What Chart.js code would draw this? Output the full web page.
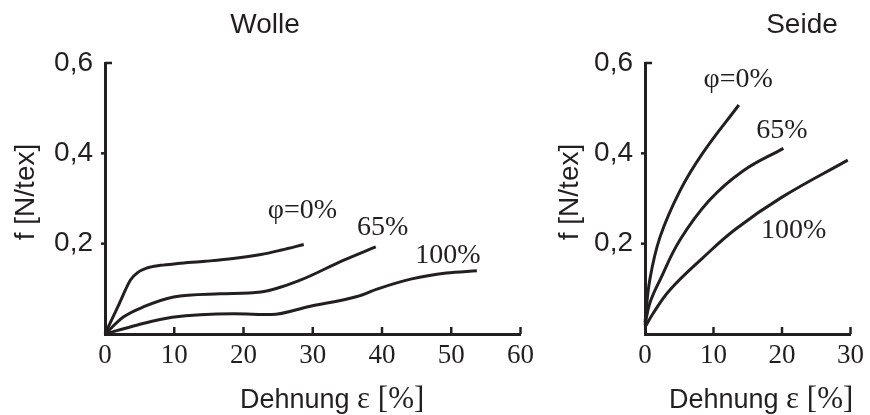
<!DOCTYPE html>
<html>
<head>
<meta charset="utf-8">
<script src="https://cdn.jsdelivr.net/npm/chart.js@4.4.0/dist/chart.umd.min.js"></script>
<style>
  html, body { margin: 0; padding: 0; background: #fff; }
  #wrap { position: relative; width: 870px; height: 415px; }
  #wolleBox { position: absolute; left: 0; top: 0; width: 540px; height: 415px; }
  #seideBox { position: absolute; left: 540px; top: 0; width: 330px; height: 415px; }
</style>
</head>
<body>
<div id="wrap">
  <div id="wolleBox"><canvas id="wolle"></canvas></div>
  <div id="seideBox"><canvas id="seide"></canvas></div>
</div>
<script>
// Wolle: Dehnung [%] / Kraft [N/tex] bei φ = 0, 65, 100 %
const wolleEps0 = [0, 2, 3.7, 4.7, 6, 8, 10.5, 14.5, 18.5, 22.5, 25.5, 28.7];
const wolleF0 = [0, 0.065, 0.12, 0.136, 0.146, 0.152, 0.156, 0.161, 0.167, 0.176, 0.186, 0.198];
const wolleEps65 = [0, 2.7, 5.7, 9.9, 16.6, 22.5, 28, 34.4, 39.1];
const wolleF65 = [0, 0.038, 0.061, 0.082, 0.089, 0.093, 0.118, 0.163, 0.193];
const wolleEps100 = [0, 4.7, 9.7, 18.6, 24, 29.5, 36.4, 39.4, 44.3, 49.3, 53.7];
const wolleF100 = [0, 0.02, 0.037, 0.045, 0.043, 0.061, 0.083, 0.1, 0.122, 0.135, 0.14];

// Seide
const seideEps0 = [0, 0.7, 2.2, 5.1, 8.4, 13.7];
const seideF0 = [0.025, 0.12, 0.215, 0.317, 0.4, 0.507];
const seideEps65 = [0, 0.7, 2.2, 5.1, 9.4, 14.2, 20.2];
const seideF65 = [0.02, 0.068, 0.12, 0.208, 0.296, 0.36, 0.411];
const seideEps100 = [0, 1.2, 3.6, 8.4, 13.2, 20, 29.6];
const seideF100 = [0.015, 0.046, 0.097, 0.168, 0.232, 0.303, 0.385];

const curveNames = ['φ=0%', '65%', '100%'];
const yTickStep = 0.2;
const xTickStep = 10;

const ink = '#231f20';
const sans = 'Liberation Sans';
const serif = 'Liberation Serif';

function pts(xs, ys) {
  return xs.map((x, i) => ({ x: x, y: ys[i] }));
}

function line(xs, ys, name, smooth) {
  const ds = {
    label: name,
    data: pts(xs, ys),
    borderColor: ink,
    borderWidth: 3,
    pointRadius: 0,
    fill: false,
    clip: false
  };
  if (smooth) ds.tension = 0.4;
  else ds.cubicInterpolationMode = 'monotone';
  return ds;
}

// text around the plot: titles, axis names, curve labels, tick marks
const decor = {
  id: 'decor',
  afterDraw(chart, args, opts) {
    const { ctx, chartArea, scales } = chart;
    const sx = scales.x, sy = scales.y;
    ctx.save();
    ctx.fillStyle = ink;
    ctx.strokeStyle = ink;

    // tick marks
    ctx.lineWidth = 2.5;
    sx.ticks.forEach(t => {
      if (t.value === 0) return;
      const px = sx.getPixelForValue(t.value);
      ctx.beginPath();
      ctx.moveTo(px, chartArea.bottom);
      ctx.lineTo(px, chartArea.bottom - 7);
      ctx.stroke();
    });
    sy.ticks.forEach(t => {
      if (t.value === 0) return;
      const py = sy.getPixelForValue(t.value);
      ctx.beginPath();
      if (Math.abs(t.value - sy.max) < 1e-6) {
        ctx.moveTo(chartArea.left, py);
        ctx.lineTo(chartArea.left + 7, py);
      } else {
        ctx.moveTo(chartArea.left - 4, py);
        ctx.lineTo(chartArea.left, py);
      }
      ctx.stroke();
    });

    // chart title
    ctx.textBaseline = 'alphabetic';
    ctx.textAlign = 'center';
    ctx.font = '28px "' + sans + '"';
    ctx.fillText(opts.title, opts.titleX, 33);

    // x axis name
    ctx.textAlign = 'left';
    ctx.font = '27px "' + sans + '"';
    const w1 = ctx.measureText('Dehnung ').width;
    ctx.fillText('Dehnung ', opts.xTitleX, 408);
    ctx.font = '31px "' + serif + '"';
    ctx.fillText('ε [%]', opts.xTitleX + w1, 408);

    // y axis name
    ctx.save();
    ctx.translate(opts.yTitleX, 192);
    ctx.rotate(-Math.PI / 2);
    ctx.textAlign = 'center';
    ctx.textBaseline = 'middle';
    ctx.font = '28px "' + sans + '"';
    ctx.fillText('f [N/tex]', 0, 0);
    ctx.restore();

    // curve labels
    ctx.textAlign = 'center';
    ctx.textBaseline = 'alphabetic';
    ctx.font = '28px "' + serif + '"';
    opts.labels.forEach(l => {
      ctx.fillText(l.text, sx.getPixelForValue(l.x), sy.getPixelForValue(l.y));
    });
    ctx.restore();
  }
};

function makeOptions(xMax, padRight, decorOpts) {
  return {
    responsive: true,
    maintainAspectRatio: false,
    animation: false,
    layout: { padding: { left: 0, top: 63, right: padRight, bottom: 0 } },
    plugins: {
      legend: { display: false },
      tooltip: { enabled: false },
      decor: decorOpts
    },
    scales: {
      x: {
        type: 'linear',
        min: 0,
        max: xMax,
        ticks: { stepSize: xTickStep, color: ink, padding: 6, font: { family: serif, size: 27 } },
        grid: { drawOnChartArea: false, drawTicks: false },
        border: { display: true, width: 3, color: ink },
        afterFit: s => { s.height = 81; }
      },
      y: {
        min: 0,
        max: 0.6,
        ticks: {
          stepSize: yTickStep,
          color: ink,
          padding: 12,
          font: { family: sans, size: 28 },
          callback: v => (v === 0 ? '' : v.toFixed(1).replace('.', ','))
        },
        grid: { drawOnChartArea: false, drawTicks: false },
        border: { display: true, width: 3, color: ink },
        afterFit: s => { s.width = 105; }
      }
    }
  };
}

document.addEventListener('DOMContentLoaded', function () {
  new Chart(document.getElementById('wolle').getContext('2d'), {
    type: 'line',
    data: {
      datasets: [
        line(wolleEps0, wolleF0, curveNames[0], false),
        line(wolleEps65, wolleF65, curveNames[1], false),
        line(wolleEps100, wolleF100, curveNames[2], false)
      ]
    },
    options: makeOptions(60, 18, {
      title: 'Wolle', titleX: 265, xTitleX: 240, yTitleX: 26,
      labels: [
        { text: curveNames[0], x: 28.5, y: 0.256 },
        { text: curveNames[1], x: 40.1, y: 0.219 },
        { text: curveNames[2], x: 49.5, y: 0.158 }
      ]
    }),
    plugins: [decor]
  });

  new Chart(document.getElementById('seide').getContext('2d'), {
    type: 'line',
    data: {
      datasets: [
        line(seideEps0, seideF0, curveNames[0], true),
        line(seideEps65, seideF65, curveNames[1], true),
        line(seideEps100, seideF100, curveNames[2], true)
      ]
    },
    options: makeOptions(30, 17, {
      title: 'Seide', titleX: 262, xTitleX: 129, yTitleX: 30,
      labels: [
        { text: curveNames[0], x: 13.6, y: 0.547 },
        { text: curveNames[1], x: 20.0, y: 0.433 },
        { text: curveNames[2], x: 21.7, y: 0.212 }
      ]
    }),
    plugins: [decor]
  });
});
</script>
</body>
</html>
